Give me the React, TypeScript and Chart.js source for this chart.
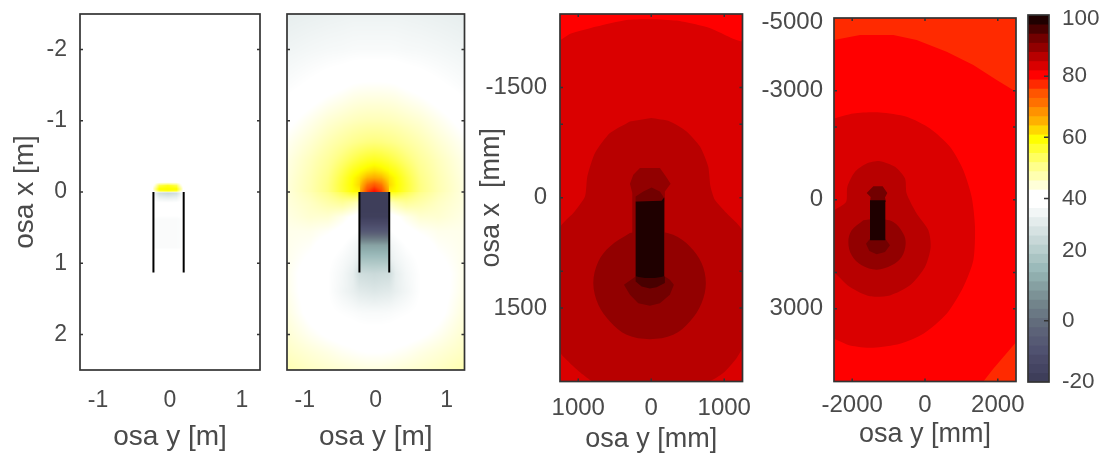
import React, { useEffect, useRef } from "react";
import { Chart, registerables } from "chart.js";

Chart.register(...registerables);

const FONT = "Liberation Sans";
const TEXT = "#4a4a4a";
const FRAME = "#333333";

// Colour bar, top band (97..100) to bottom band (-20..-17)
const barColors = [
  "#1f0000", "#480000", "#720000", "#920000", "#b80000", "#da0000", "#ff0000", "#ff2a00",
  "#ff5500", "#ff7000", "#ff9200", "#ffb000", "#ffd800", "#ffff00", "#ffff30", "#ffff60",
  "#ffff8c", "#ffffb0", "#ffffd8", "#ffffff", "#ffffff", "#f2f6f6", "#e4ecec", "#d6e2e2",
  "#c8d8d8", "#b9cfce", "#aac4c3", "#9bbaba", "#90aeae", "#86a0a2", "#7c9296", "#72848b",
  "#6a7884", "#626c7c", "#5c6278", "#565a74", "#505270", "#4a4a68", "#444462", "#3e3e5a",
];
const barTicks = [98.7, 80, 60, 40, 23, 0, -20];
const barTickLabels: Record<string, string> = { "98.7": "100", "80": "80", "60": "60", "40": "40", "23": "20", "0": "0", "-20": "-20" };
const barMarks = [80, 60, 40, 0];

// Panel 1: field table, half width (mirror about the sensor axis)
const p1Xs = [0, 0.12, 0.18, 0.22, 1.25];
const p1Ys = [-2.5, -0.14, -0.09, -0.04, -0.01, 0.01, 0.08, 0.15, 0.33, 0.38, 0.78, 0.85, 2.5];
const p1Values = [
  [40, 40, 40, 40, 40],
  [40, 40, 40, 40, 40],
  [58, 55, 44, 40, 40],
  [60, 60, 50, 40, 40],
  [58, 56, 45, 40, 40],
  [26, 28, 34, 40, 40],
  [33, 34, 37, 40, 40],
  [38.5, 38.5, 39, 40, 40],
  [38.5, 38.5, 39, 40, 40],
  [37.3, 37.3, 37.6, 40, 40],
  [37.3, 37.3, 37.6, 40, 40],
  [40, 40, 40, 40, 40],
  [40, 40, 40, 40, 40],
];

// Panel 2: field table, half width
const p2Xs = [0, 0.1, 0.2, 0.21, 0.3, 0.45, 0.65, 0.9, 1.25];
const p2Ys = [-2.5, -2, -1.5, -1, -0.7, -0.45, -0.3, -0.2, -0.1, -0.002, 0.002, 0.15, 0.35, 0.55, 0.75, 0.95, 1.15, 1.4, 1.7, 2, 2.25, 2.5];
const p2Values = [
  [34.5, 34.5, 34.5, 34.5, 34.5, 34.3, 34, 33.6, 33],
  [37, 37, 37, 37, 36.9, 36.6, 36.4, 35.9, 35],
  [42, 42, 41.9, 41.9, 41.7, 41, 40.2, 39, 37.4],
  [47, 47, 46.8, 46.8, 46.5, 45.8, 44.8, 43, 40.5],
  [51.5, 51.3, 50.8, 50.8, 50.2, 48.9, 47.2, 45, 42.3],
  [57.5, 57, 56, 55.8, 54.6, 52.2, 49.2, 46.5, 43.3],
  [62, 61, 59.6, 59.2, 57.8, 54.4, 50.2, 47, 43.6],
  [66, 65, 62, 61.5, 59.6, 55.6, 50.8, 47.3, 43.8],
  [74, 71, 64, 62.5, 60, 56.2, 51.2, 47.4, 44],
  [80, 76, 66, 60.5, 59.5, 56, 51.2, 47.5, 44],
  [-19, -19, -19, 58, 58, 54.5, 50.5, 47.2, 44],
  [-19, -19, -19, 46, 48, 49.5, 48, 46, 44],
  [-18, -18, -18, 40, 41, 43, 45, 45, 43.5],
  [-7, -7, -7, 38, 39, 40.5, 42, 43, 43],
  [12, 12, 12, 35, 36.5, 38.5, 40, 42, 43],
  [20, 20, 20, 33, 35, 37, 39, 41, 43],
  [27, 27.5, 28, 28, 33, 36, 38.5, 40, 43],
  [31, 31.5, 32, 32, 33.5, 35.5, 38.5, 40, 43.2],
  [37, 37, 37.2, 37.2, 37.6, 38.2, 39, 40.5, 44],
  [39.5, 39.5, 39.7, 39.7, 40, 40.3, 41, 42.5, 45],
  [41.5, 41.5, 41.7, 41.7, 42, 42.5, 43.5, 44.5, 46],
  [44, 44, 44.2, 44.2, 44.4, 44.8, 45.3, 46, 47.5],
];

// Sensor walls in metres
const wallLeft = [[-0.23, 0], [-0.23, 1.13]];
const wallRight = [[0.19, 0], [0.19, 1.13]];

// Panel 3 contours, mm
const p3Cap = [[-1250, -2500], [-1250, -2150], [-1110, -2230], [-750, -2330], [-340, -2420], [0, -2430], [350, -2410], [800, -2310], [1250, -2130], [1250, -2500]];
const p3Outer = [[0, -1084], [255, -1039], [484, -903], [666, -699], [780, -426], [812, -154], [871, 27], [1031, 209], [1250, 458], [1250, 2023], [1168, 2182], [985, 2386], [780, 2500], [-794, 2500], [-931, 2409], [-1113, 2250], [-1250, 2092], [-1250, 413], [-1068, 209], [-908, -18], [-876, -290], [-771, -608], [-566, -880], [-292, -1039]];
const p3Circle = [[-18, 436], [301, 504], [529, 662], [689, 889], [748, 1161], [689, 1434], [529, 1683], [301, 1865], [-18, 1924], [-338, 1865], [-566, 1683], [-725, 1456], [-794, 1161], [-725, 867], [-566, 662], [-292, 481]];
const p3Neck = [[-155, -404], [119, -404], [201, -290], [265, -191], [187, -86], [178, 27], [187, 1071], [-260, 1071], [-260, -64], [-292, -191], [-246, -313]];
const p3Head = [[-109, -86], [5, -141], [119, -86], [178, 5], [178, 50], [-214, 50], [-214, -18]];
const p3Tail = [[-214, 1071], [187, 1071], [255, 1116], [310, 1184], [255, 1320], [119, 1434], [-18, 1470], [-178, 1434], [-292, 1320], [-374, 1184]];
const p3TailDark = [[-214, 1071], [187, 1071], [187, 1161], [73, 1216], [-18, 1234], [-132, 1207], [-214, 1139]];
const p3Core = [[-214, 50], [141, 41], [178, -5], [178, 1071], [50, 1093], [-87, 1093], [-214, 1071]];

// Panel 4 contours, mm
const p4Cap = [[-2500, -4394], [-1786, -4532], [-870, -4532], [-229, -4394], [595, -4073], [1328, -3705], [1969, -3292], [2500, -2971], [2500, -5000], [-2500, -5000]];
const p4Corner = [[1603, 5000], [1877, 4651], [2500, 3917], [2500, 5000]];
const p4Wide = [[-2500, -2236], [-1969, -2374], [-1236, -2401], [-504, -2282], [137, -1961], [687, -1456], [1053, -813], [1282, -78], [1374, 748], [1328, 1667], [1053, 2401], [595, 3136], [-46, 3687], [-687, 3962], [-1419, 4072], [-2061, 4008], [-2500, 3825]];
const p4Mid = [[-2500, 289], [-2170, 60], [-2134, -354], [-1923, -767], [-1603, -996], [-1236, -1061], [-824, -905], [-549, -583], [-504, -170], [-229, 381], [92, 840], [156, 1299], [0, 1850], [-412, 2355], [-962, 2631], [-1511, 2658], [-2061, 2401], [-2500, 1988]];
const p4Circle = [[-1328, 519], [-870, 611], [-595, 932], [-531, 1208], [-641, 1575], [-916, 1804], [-1328, 1924], [-1740, 1804], [-2015, 1529], [-2106, 1162], [-2015, 840], [-1694, 565]];
const p4Head = [[-1603, -188], [-1419, -372], [-1163, -372], [-1035, -188], [-1099, -60], [-1071, 60], [-1511, 60], [-1493, -78]];
const p4Tail = [[-1621, 1208], [-1511, 1070], [-1090, 1070], [-962, 1254], [-1099, 1437], [-1328, 1501], [-1529, 1410]];
const p4Core = [[-1511, 14], [-1090, 14], [-1090, 1116], [-1511, 1116]];

// Axis ticks
const metreYTicks = [-2, -1, 0, 1, 2];
const metreXTicks = [-1, 0, 1];
const p3YTicks = [-1500, 0, 1500];
const p3YMarks = [-1500, -1000, 0, 1000, 1500];
const p3XTicks = [-1000, 0, 1000];
const p4YTicks = [-4880, -3000, 0, 3000];
const p4YTickLabels: Record<string, string> = { "-4880": "-5000", "-3000": "-3000", "0": "0", "3000": "3000" };
const p4YMarks = [-3000, -2000, 0, 2000, 3000];
const p4XTicks = [-2000, 0, 2000];

function hex(c: string) {
  return [parseInt(c.slice(1, 3), 16), parseInt(c.slice(3, 5), 16), parseInt(c.slice(5, 7), 16)];
}
const barRgb = barColors.map(hex);

function colourOf(v: number) {
  const t = Math.min(barRgb.length - 1, Math.max(0, (100 - v) / 3 - 0.5));
  const i = Math.floor(t);
  const j = Math.min(barRgb.length - 1, i + 1);
  const f = t - i;
  return [0, 1, 2].map((k) => barRgb[i][k] * (1 - f) + barRgb[j][k] * f);
}

function locate(a: number[], x: number) {
  let i = 0;
  while (i < a.length - 2 && x > a[i + 1]) i++;
  const f = Math.max(0, Math.min(1, (x - a[i]) / (a[i + 1] - a[i])));
  return [i, f];
}

const fieldPlugin = {
  id: "field",
  beforeDatasetsDraw(chart: any, _a: any, opts: any) {
    if (!opts || !opts.values) return;
    const { left, right, top, bottom } = chart.chartArea;
    const x0 = Math.round(left), y0 = Math.round(top);
    const w = Math.round(right) - x0, h = Math.round(bottom) - y0;
    const off = document.createElement("canvas");
    off.width = w;
    off.height = h;
    const octx = off.getContext("2d")!;
    const img = octx.createImageData(w, h);
    for (let py = 0; py < h; py++) {
      const yv = chart.scales.y.getValueForPixel(y0 + py + 0.5);
      const [r, fy] = locate(opts.ys, yv);
      for (let px = 0; px < w; px++) {
        const xv = Math.abs(chart.scales.x.getValueForPixel(x0 + px + 0.5) - opts.centre);
        const [c, fx] = locate(opts.xs, xv);
        const M = opts.values;
        const v =
          M[r][c] * (1 - fx) * (1 - fy) + M[r][c + 1] * fx * (1 - fy) + M[r + 1][c] * (1 - fx) * fy + M[r + 1][c + 1] * fx * fy;
        const col = colourOf(v);
        const o = (py * w + px) * 4;
        img.data[o] = col[0];
        img.data[o + 1] = col[1];
        img.data[o + 2] = col[2];
        img.data[o + 3] = 255;
      }
    }
    octx.putImageData(img, 0, 0);
    chart.ctx.drawImage(off, x0, y0);
  },
};

const framePlugin = {
  id: "frame",
  afterDatasetsDraw(chart: any, _a: any, opts: any) {
    const { left, right, top, bottom } = chart.chartArea;
    const ctx = chart.ctx;
    ctx.save();
    ctx.strokeStyle = FRAME;
    ctx.lineWidth = 1.7;
    ctx.strokeRect(left, top, right - left, bottom - top);
    ctx.lineWidth = 1.5;
    ctx.beginPath();
    for (const v of opts.yMarks || []) {
      const p = chart.scales.y.getPixelForValue(v);
      if (opts.bothY !== false) {
        ctx.moveTo(left, p);
        ctx.lineTo(left + 3, p);
      }
      ctx.moveTo(right, p);
      ctx.lineTo(right - (opts.markLength || 3), p);
    }
    for (const v of opts.xMarks || []) {
      const p = chart.scales.x.getPixelForValue(v);
      ctx.moveTo(p, top);
      ctx.lineTo(p, top + 3);
      ctx.moveTo(p, bottom);
      ctx.lineTo(p, bottom - 3);
    }
    ctx.stroke();
    ctx.restore();
  },
};

function shape(points: number[][], colour: string, i: number, tension = 0) {
  return {
    data: points.map(([x, y]) => ({ x, y })),
    showLine: true,
    fill: "shape",
    backgroundColor: colour,
    borderWidth: 0,
    pointRadius: 0,
    tension,
    order: -i,
  };
}

function wall(points: number[][], i: number) {
  return {
    data: points.map(([x, y]) => ({ x, y })),
    showLine: true,
    fill: false,
    borderColor: "#000000",
    borderWidth: 2,
    pointRadius: 0,
    tension: 0,
    order: -i,
  };
}

type Panel = {
  box: [number, number, number, number];
  xRange: number[];
  yRange: number[];
  xTicks: number[];
  yTicks: number[];
  yLabels?: Record<string, string>;
  xTitle: string;
  yTitle?: string;
  yWidth: number;
  yTitlePad?: number;
  yTickPad?: number;
  xHeightPad: number;
  xTickPad: number;
  tickSize: number;
  titleSize: number;
  datasets: any[];
  field?: any;
  frame: any;
  bg?: string;
};

function fixedTicks(values: number[]) {
  return (scale: any) => {
    scale.ticks = values.map((value) => ({ value }));
  };
}

function panelConfig(p: Panel) {
  const [l, r, t, b] = p.box;
  const tickFont = { family: FONT, size: p.tickSize };
  const titleFont = { family: FONT, size: p.titleSize };
  const bgPlugin = {
    id: "bg",
    beforeDatasetsDraw(chart: any) {
      if (!p.bg) return;
      const a = chart.chartArea;
      chart.ctx.fillStyle = p.bg;
      chart.ctx.fillRect(a.left, a.top, a.right - a.left, a.bottom - a.top);
    },
  };
  return {
    type: "scatter",
    data: { datasets: p.datasets },
    plugins: [bgPlugin, fieldPlugin, framePlugin],
    options: {
      animation: false,
      responsive: false,
      events: [],
      layout: { padding: { left: l - p.yWidth, right: 1107 - r, top: t, bottom: p.xHeightPad } },
      plugins: {
        legend: { display: false },
        tooltip: { enabled: false },
        field: p.field || {},
        frame: p.frame,
      },
      scales: {
        x: {
          type: "linear",
          min: p.xRange[0],
          max: p.xRange[1],
          grid: { display: false, drawTicks: false },
          border: { display: false },
          afterBuildTicks: fixedTicks(p.xTicks),
          afterFit: (s: any) => {
            s.height = 458 - b - p.xHeightPad;
            s.paddingLeft = 0;
            s.paddingRight = 0;
          },
          ticks: {
            font: tickFont,
            color: TEXT,
            autoSkip: false,
            maxRotation: 0,
            minRotation: 0,
            padding: p.xTickPad,
            callback: (v: number) => String(Math.abs(v) === 1000 ? 1000 : v),
          },
          title: { display: true, text: p.xTitle, font: titleFont, color: TEXT, padding: 0 },
        },
        y: {
          type: "linear",
          reverse: true,
          min: p.yRange[0],
          max: p.yRange[1],
          grid: { display: false, drawTicks: false },
          border: { display: false },
          afterBuildTicks: fixedTicks(p.yTicks),
          afterFit: (s: any) => {
            s.width = p.yWidth;
            s.paddingTop = 0;
            s.paddingBottom = 0;
          },
          ticks: {
            display: p.yTicks.length > 0,
            font: tickFont,
            color: TEXT,
            autoSkip: false,
            padding: p.yTickPad ?? 13,
            callback: (v: number) => (p.yLabels ? p.yLabels[String(v)] : String(v)),
          },
          title: p.yTitle
            ? { display: true, text: p.yTitle, font: titleFont, color: TEXT, padding: { top: p.yTitlePad || 0, bottom: 0 } }
            : { display: false },
        },
      },
    },
  } as any;
}

const panels: Panel[] = [
  {
    box: [80, 260, 14, 370],
    xRange: [-1.25, 1.25],
    yRange: [-2.5, 2.5],
    xTicks: metreXTicks,
    yTicks: metreYTicks,
    xTitle: "osa y [m]",
    yTitle: "osa x [m]",
    yWidth: 80,
    yTitlePad: 8,
    xHeightPad: 4,
    xTickPad: 17,
    tickSize: 23,
    titleSize: 28,
    datasets: [wall(wallLeft, 0), wall(wallRight, 1)],
    field: { xs: p1Xs, ys: p1Ys, values: p1Values, centre: -0.03 },
    frame: { yMarks: metreYTicks },
  },
  {
    box: [287, 464.5, 14, 370],
    xRange: [-1.25, 1.25],
    yRange: [-2.5, 2.5],
    xTicks: metreXTicks,
    yTicks: [],
    xTitle: "osa y [m]",
    yWidth: 10,
    xHeightPad: 4,
    xTickPad: 17,
    tickSize: 23,
    titleSize: 28,
    datasets: [wall(wallLeft, 0), wall(wallRight, 1)],
    field: { xs: p2Xs, ys: p2Ys, values: p2Values, centre: -0.02 },
    frame: { yMarks: metreYTicks },
  },
  {
    box: [560, 742.5, 14, 381.5],
    xRange: [-1250, 1250],
    yRange: [-2500, 2500],
    xTicks: p3XTicks,
    yTicks: p3YTicks,
    xTitle: "osa y [mm]",
    yTitle: "osa x  [mm]",
    yWidth: 85,
    yTitlePad: 0,
    xHeightPad: 2,
    xTickPad: 12,
    tickSize: 24,
    titleSize: 27,
    bg: "#da0000",
    datasets: [
      shape(p3Cap, "#ff0000", 0, 0.2),
      shape(p3Outer, "#b80000", 1, 0.2),
      shape(p3Circle, "#920000", 2, 0.35),
      shape(p3Neck, "#920000", 3),
      shape(p3Head, "#720000", 4),
      shape(p3Tail, "#720000", 5),
      shape(p3TailDark, "#480000", 6),
      shape(p3Core, "#1f0000", 7),
    ],
    frame: { yMarks: p3YMarks, xMarks: p3XTicks },
  },
  {
    box: [834, 1016, 18, 381.5],
    xRange: [-2500, 2500],
    yRange: [-5000, 5000],
    xTicks: p4XTicks,
    yTicks: p4YTicks,
    yLabels: p4YTickLabels,
    xTitle: "osa y [mm]",
    yWidth: 80,
    yTickPad: 11,
    xHeightPad: 7,
    xTickPad: 9,
    tickSize: 24,
    titleSize: 27,
    bg: "#ff0000",
    datasets: [
      shape(p4Cap, "#ff2a00", 0),
      shape(p4Corner, "#ff2a00", 1),
      shape(p4Wide, "#da0000", 2, 0.25),
      shape(p4Mid, "#b80000", 3, 0.25),
      shape(p4Circle, "#920000", 4, 0.35),
      shape(p4Head, "#720000", 5),
      shape(p4Tail, "#720000", 6),
      shape(p4Core, "#1f0000", 7),
    ],
    frame: { yMarks: p4YMarks, xMarks: p4XTicks },
  },
];

function colourBarConfig() {
  const datasets = barColors.map((c, i) => ({
    data: [[100 - 3 * (i + 1), 100 - 3 * i + (i > 0 ? 1 : 0)]],
    backgroundColor: c,
    grouped: false,
    barPercentage: 1,
    categoryPercentage: 1,
    borderWidth: 0,
  }));
  return {
    type: "bar",
    data: { labels: ["c"], datasets },
    plugins: [framePlugin],
    options: {
      animation: false,
      responsive: false,
      events: [],
      layout: { padding: { left: 1028, right: 1107 - 1049 - 58, top: 15, bottom: 458 - 382 } },
      plugins: {
        legend: { display: false },
        tooltip: { enabled: false },
        frame: { yMarks: barMarks, bothY: false, markLength: 5 },
      },
      scales: {
        x: { display: false },
        y: {
          position: "right",
          min: -20,
          max: 100,
          grid: { display: false, drawTicks: false },
          border: { display: false },
          afterBuildTicks: fixedTicks(barTicks),
          afterFit: (s: any) => {
            s.width = 58;
            s.paddingTop = 0;
            s.paddingBottom = 0;
          },
          ticks: {
            font: { family: FONT, size: 22.5 },
            color: TEXT,
            autoSkip: false,
            padding: 13,
            callback: (v: number) => barTickLabels[String(v)] ?? "",
          },
        },
      },
    },
  } as any;
}

export default function App() {
  const refs = useRef<(HTMLCanvasElement | null)[]>([]);
  useEffect(() => {
    const configs = [...panels.map(panelConfig), colourBarConfig()];
    const charts = configs.map((cfg, i) => new Chart(refs.current[i]!, cfg));
    return () => charts.forEach((c) => c.destroy());
  }, []);
  return (
    <div style={{ position: "absolute", left: 0, top: 0, width: 1107, height: 458, background: "#fff", overflow: "hidden" }}>
      {[0, 1, 2, 3, 4].map((i) => (
        <canvas
          key={i}
          ref={(el) => {
            refs.current[i] = el;
          }}
          width={1107}
          height={458}
          style={{ position: "absolute", left: 0, top: 0, width: 1107, height: 458, display: "block", filter: "blur(0.6px)" }}
        />
      ))}
    </div>
  );
}
